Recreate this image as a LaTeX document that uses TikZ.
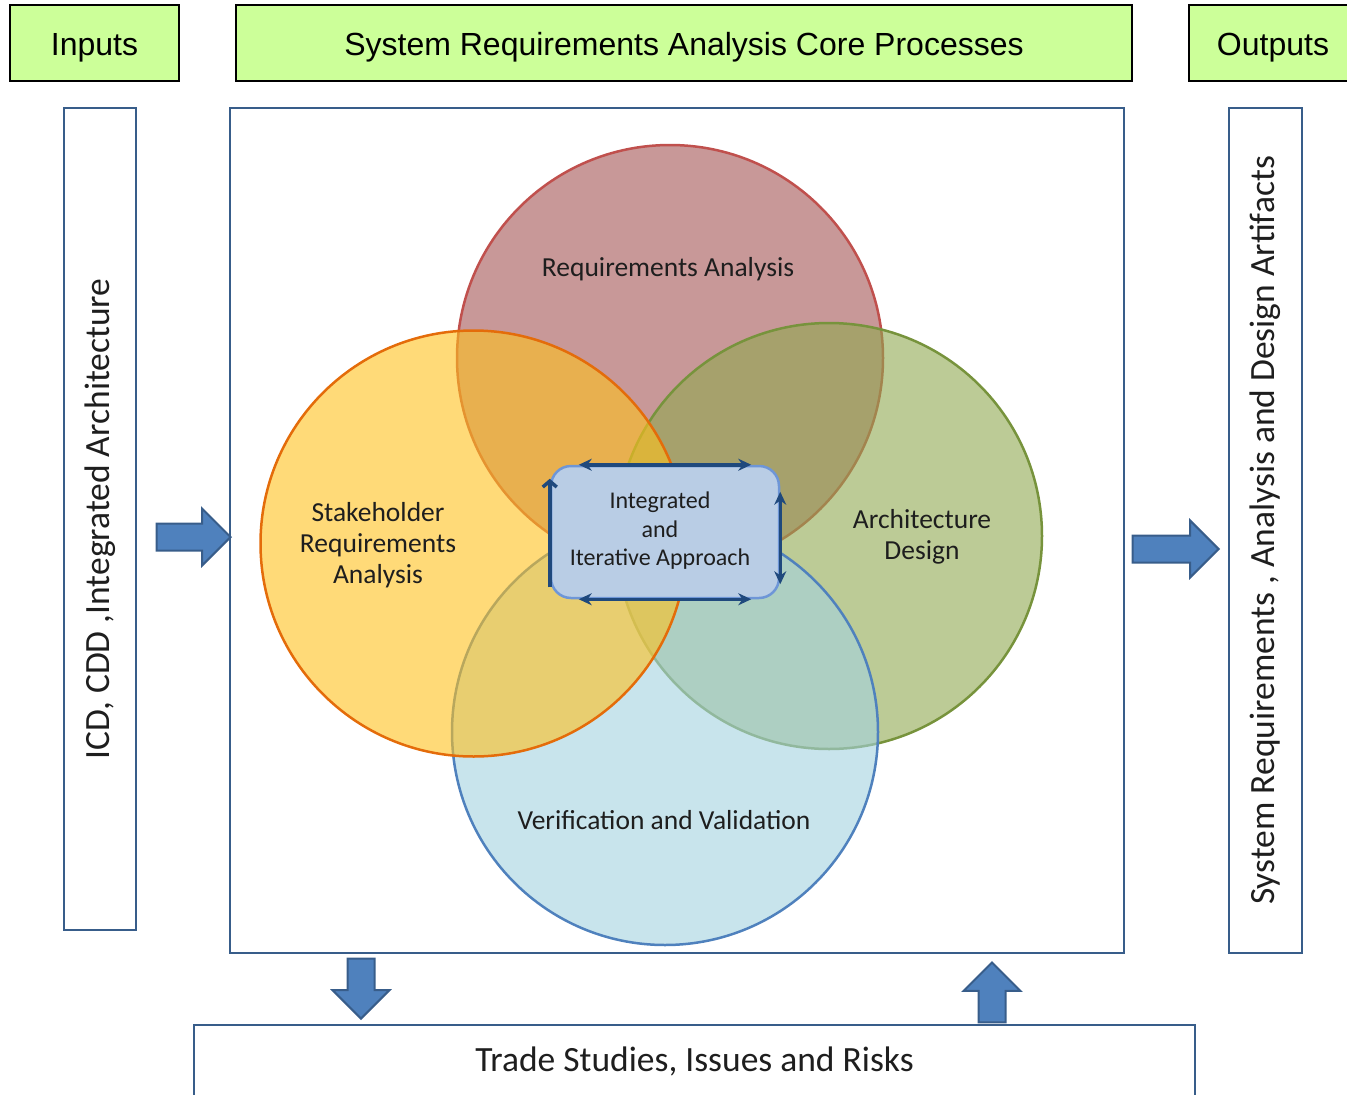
\documentclass[tikz,border=0pt]{standalone}
\usepackage{fontspec}
\setmainfont{Carlito}
\newfontfamily\hdrfont{Liberation Sans}
\usetikzlibrary{positioning, arrows.meta, shapes.arrows, calc}
\definecolor{hdrgreen}{RGB}{204,255,153}
\definecolor{framecol}{RGB}{56,93,138}
\definecolor{arrowfill}{RGB}{79,129,189}
\definecolor{arrowedge}{RGB}{56,93,138}
\definecolor{reqfill}{RGB}{163,83,83}
\definecolor{reqedge}{RGB}{192,80,77}
\definecolor{stakefill}{RGB}{255,193,30}
\definecolor{stakeedge}{RGB}{228,108,10}
\definecolor{archfill}{RGB}{144,168,80}
\definecolor{archedge}{RGB}{119,147,60}
\definecolor{vvfill}{RGB}{163,210,223}
\definecolor{vvedge}{RGB}{79,129,189}
\definecolor{corefill}{RGB}{185,205,229}
\definecolor{coreedge}{RGB}{110,150,215}
\definecolor{loopcol}{RGB}{31,73,125}
\definecolor{txtcol}{RGB}{30,30,30}
\tikzset{
    header/.style={draw=black, line width=1.5pt, fill=hdrgreen, inner sep=0pt,
        font=\hdrfont\fontsize{32}{36}\selectfont, minimum height=76pt,
        text height=25pt, text depth=0pt},
    frame/.style={draw=framecol, line width=2.5pt, inner sep=0pt},
    sidetext/.style={font=\fontsize{35.5}{40}\selectfont, text=txtcol},
    ring/.style={circle, minimum size=426pt, inner sep=0pt, line width=2.5pt, fill opacity=0.6},
    ringtext/.style={align=center, font=\fontsize{27.5}{31}\selectfont, text=txtcol},
    blockarrow/.style={single arrow, draw=arrowedge, fill=arrowfill, line width=2pt,
        text height=12.5pt, text depth=12.5pt, single arrow head extend=15pt,
        single arrow head indent=0pt, inner sep=0pt, anchor=tip},
    loop/.style={draw=loopcol, line width=3.5pt},
}

\begin{document}
\begin{tikzpicture}[x=1pt, y=-1pt]
    \useasboundingbox (0,0) rectangle (1347,1095);

    % headers
    \node[header, minimum width=169pt] (inputs) at (94.5,43) {Inputs};
    \node[header, minimum width=896pt] (core) at (684,43) {System Requirements Analysis Core Processes};
    \node[header, minimum width=168pt] (outputs) at (1273,43) {Outputs};

    % side and bottom boxes
    \node[frame, sidetext, rotate=90, minimum width=822pt, minimum height=72pt] (icd) at (100,519)
        {ICD, CDD ,Integrated Architecture};
    \node[frame, minimum width=894pt, minimum height=845pt] (main) at (677,530.5) {};
    \node[frame, sidetext, rotate=90, minimum width=845pt, minimum height=73pt] (artifacts) at (1265.5,530.5)
        {System Requirements , Analysis and Design Artifacts};
    \node[frame, sidetext, minimum width=1001pt, minimum height=72pt] (trade) at (694.5,1061)
        {Trade Studies, Issues and Risks};

    % block arrows
    \node[blockarrow, minimum height=74pt] (inarrow) at (232,537) {};
    \node[blockarrow, minimum height=86pt] (outarrow) at (1220,549) {};
    \node[blockarrow, minimum height=60pt, rotate=-90] (downarrow) at (361,1020) {};
    \node[blockarrow, minimum height=60pt, rotate=90] (uparrow) at (992,961) {};

    % the four processes
    \node[ring, fill=reqfill, draw=reqedge] (req) at (670,358) {};
    \node[ring, fill=archfill, draw=archedge] (arch) at (829,536) {};
    \node[ring, fill=vvfill, draw=vvedge] (vv) at (665,732) {};
    \node[ring, fill=stakefill, draw=stakeedge] (stake) at (473.5,543.5) {};

    \node[ringtext] (reqtext) at (668,269) {Requirements Analysis};
    \node[ringtext] (staketext) at (378,545) {Stakeholder\\Requirements\\Analysis};
    \node[ringtext] (archtext) at (922,537) {Architecture\\Design};
    \node[ringtext] (vvtext) at (664,820) {Verification and Validation};

    % centre
    \node[draw=coreedge, fill=corefill, line width=2.5pt, rounded corners=20pt,
        minimum width=228pt, minimum height=132pt, inner sep=0pt] (approach) at (665,532) {};
    \node[ringtext, font=\fontsize{24}{28.5}\selectfont] (approachtext) at (660,531)
        {Integrated\\and\\Iterative Approach};
    \draw[loop, {Stealth[length=13pt,width=12pt]}-{Stealth[length=13pt,width=12pt]}]
        ($(approach.north west)+(29,0)$) -- ($(approach.north east)+(-29,0)$);
    \draw[loop, {Stealth[length=13pt,width=12pt]}-{Stealth[length=13pt,width=12pt]}]
        ($(approach.south west)+(29,0)$) -- ($(approach.south east)+(-29,0)$);
    \draw[loop, -{Straight Barb[length=6pt,width=14pt]}]
        ($(approach.south west)+(0,-12)$) -- ($(approach.north west)+(0,14)$);
    \draw[loop, {Stealth[length=13pt,width=12pt]}-{Stealth[length=13pt,width=12pt]}]
        ($(approach.north east)+(0,27)$) -- ($(approach.south east)+(0,-15)$);
\end{tikzpicture}
\end{document}
